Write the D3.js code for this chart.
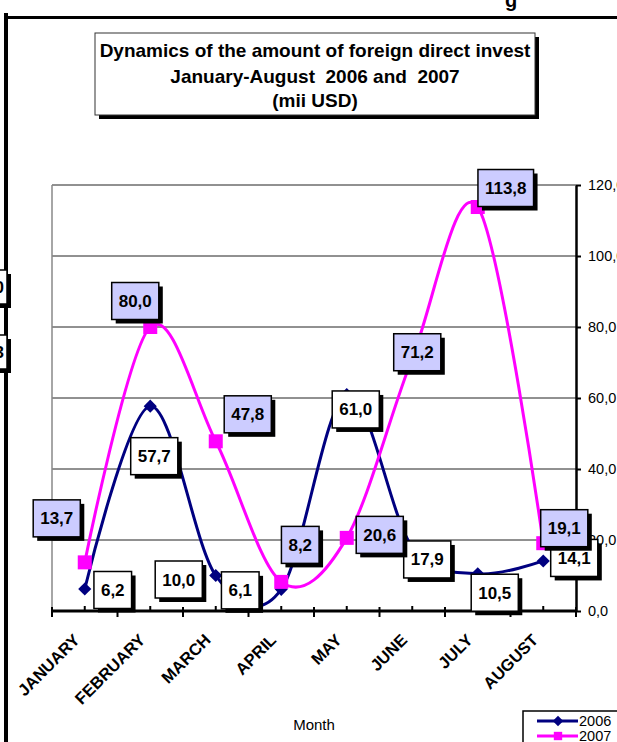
<!DOCTYPE html>
<html>
<head>
<meta charset="utf-8">
<script src="https://cdn.jsdelivr.net/npm/d3@7"></script>
<style>
  body { margin: 0; background: #fff; }
  svg { display: block; font-family: "Liberation Sans", Arial, sans-serif; }
</style>
</head>
<body>
<div class="chart"></div>
<script>
// data
var months = ["JANUARY", "FEBRUARY", "MARCH", "APRIL", "MAY", "JUNE", "JULY", "AUGUST"];
var values2006 = [6.2, 57.7, 10.0, 6.1, 61.0, 17.9, 10.5, 14.1];
var values2007 = [13.7, 80.0, 47.8, 8.2, 20.6, 71.2, 113.8, 19.1];
var yTicks = [0, 20, 40, 60, 80, 100, 120];
var titleLines = ["Dynamics of the amount of foreign direct invest", "January-August  2006 and  2007", "(mii USD)"];

// where the data labels were dragged to (pixel offset from their point)
var labelShift2006 = [[28, 1], [4, 50], [-37, 4], [-41, 1], [9, 15], [15, 12], [17, 19], [31, -3]];
var labelShift2007 = [[-28, -44], [-15, -26], [32, -27], [19, -37], [33, -3], [5, -6], [28, -19], [21, -15]];

var svgWidth = 617;
var svgHeight = 742;
var fontFamily = "'Liberation Sans', Arial, sans-serif";

// plot area in page pixels
var plot = { left: 52, right: 576, top: 185, bottom: 611 };

var svg = d3.select(".chart")
  .append("svg")
  .attr("width", svgWidth)
  .attr("height", svgHeight);

var x = d3.scaleBand()
  .domain(months)
  .range([plot.left, plot.right]);

var y = d3.scaleLinear()
  .domain([0, 120])
  .range([plot.bottom, plot.top]);

var cx = d => x(d) + x.bandwidth() / 2;
var fmt = d => d3.format(".1f")(d).replace(".", ",");

// outer frame of the sheet (cut off at the edges)
svg.append("rect").attr("x", 4).attr("y", 16).attr("width", 613).attr("height", 3).attr("fill", "#000");
svg.append("rect").attr("x", 4).attr("y", 13).attr("width", 4).attr("height", 729).attr("fill", "#000");
svg.append("text")
  .attr("x", 505).attr("y", 7)
  .attr("font-size", 20).attr("font-weight", "bold")
  .text("g");

// labels of a neighbour chart, mostly off-screen
[[270, "0"], [335, "3"]].forEach(function (b) {
  svg.append("rect").attr("x", -40).attr("y", b[0] + 4).attr("width", 51).attr("height", 34).attr("fill", "#000");
  svg.append("rect").attr("x", -44).attr("y", b[0]).attr("width", 51).attr("height", 34)
    .attr("fill", "#fff").attr("stroke", "#000").attr("stroke-width", 1.5);
  svg.append("text").attr("x", 4).attr("y", b[0] + 23).attr("text-anchor", "end")
    .attr("font-size", 17).attr("font-weight", "bold").text(b[1]);
});

// title box
svg.append("rect").attr("x", 99).attr("y", 37).attr("width", 440).attr("height", 82).attr("fill", "#000");
svg.append("rect").attr("x", 95).attr("y", 33).attr("width", 440).attr("height", 82)
  .attr("fill", "#fff").attr("stroke", "#333").attr("stroke-width", 1);
svg.append("g").selectAll("text")
  .data(titleLines)
  .enter()
  .append("text")
  .attr("x", 315)
  .attr("y", (d, i) => [57, 83, 107][i])
  .attr("text-anchor", "middle")
  .attr("font-size", 19)
  .attr("font-weight", "bold")
  .style("white-space", "pre")
  .text(d => d);

// gridlines
svg.append("g").selectAll("line")
  .data(yTicks.filter(d => d > 0))
  .enter()
  .append("line")
  .attr("x1", plot.left).attr("x2", plot.right)
  .attr("y1", d => y(d)).attr("y2", d => y(d))
  .attr("stroke", "#222").attr("stroke-width", 1);

// left border of plot area
svg.append("line")
  .attr("x1", plot.left).attr("x2", plot.left)
  .attr("y1", plot.top).attr("y2", plot.bottom)
  .attr("stroke", "#888").attr("stroke-width", 1.5);

// right value axis
var rightAxis = d3.axisRight(y).tickValues(yTicks).tickFormat(fmt).tickSize(5).tickSizeOuter(0).tickPadding(7);
var ra = svg.append("g")
  .attr("transform", `translate(${plot.right}, 0)`)
  .call(rightAxis)
  .attr("font-family", fontFamily)
  .attr("font-size", 14.5);
ra.select(".domain").attr("stroke-width", 2.5);
ra.selectAll(".tick line").attr("stroke-width", 2);
ra.selectAll("text").attr("fill", "#000");

// bottom category axis
svg.append("line")
  .attr("x1", plot.left - 1).attr("x2", plot.right)
  .attr("y1", plot.bottom).attr("y2", plot.bottom)
  .attr("stroke", "#000").attr("stroke-width", 3);
var bounds = months.map(m => x(m)).concat([plot.right]);
svg.append("g").selectAll("line")
  .data(bounds)
  .enter()
  .append("line")
  .attr("x1", d => d).attr("x2", d => d)
  .attr("y1", plot.bottom - 4).attr("y2", plot.bottom + 6)
  .attr("stroke", "#000").attr("stroke-width", 2);
svg.append("g").selectAll("line")
  .data(months)
  .enter()
  .append("line")
  .attr("x1", cx).attr("x2", cx)
  .attr("y1", plot.bottom - 5).attr("y2", plot.bottom)
  .attr("stroke", "#000").attr("stroke-width", 2);

svg.append("g").selectAll("text")
  .data(months)
  .enter()
  .append("text")
  .attr("transform", d => `translate(${cx(d) - 4}, ${plot.bottom + 30}) rotate(-45)`)
  .attr("text-anchor", "end")
  .attr("font-size", 16.5)
  .attr("font-weight", "bold")
  .text(d => d);

svg.append("text")
  .attr("x", 314).attr("y", 730)
  .attr("text-anchor", "middle")
  .attr("font-size", 15)
  .text("Month");

// smoothed lines
var line = d3.line()
  .x((d, i) => cx(months[i]))
  .y(d => y(d))
  .curve(d3.curveCardinal.tension(0));

svg.append("path")
  .attr("d", line(values2006))
  .attr("fill", "none").attr("stroke", "#000080").attr("stroke-width", 3);
svg.append("g").selectAll("path")
  .data(values2006)
  .enter()
  .append("path")
  .attr("d", d3.symbol(d3.symbolDiamond2, 110))
  .attr("transform", (d, i) => `translate(${cx(months[i])}, ${y(d)})`)
  .attr("fill", "#000080");

svg.append("path")
  .attr("d", line(values2007))
  .attr("fill", "none").attr("stroke", "#ff00ff").attr("stroke-width", 3);
svg.append("g").selectAll("rect")
  .data(values2007)
  .enter()
  .append("rect")
  .attr("x", (d, i) => cx(months[i]) - 7)
  .attr("y", d => y(d) - 7)
  .attr("width", 14).attr("height", 14)
  .attr("fill", "#ff00ff");

// data label boxes
function drawLabels(values, shifts, fill) {
  values.forEach(function (v, i) {
    var px = cx(months[i]) + shifts[i][0];
    var py = y(v) + shifts[i][1];
    var g = svg.append("g");
    var shadow = g.append("rect").attr("fill", "#000");
    var box = g.append("rect").attr("fill", fill).attr("stroke", "#000").attr("stroke-width", 1.5);
    var t = g.append("text")
      .attr("x", px).attr("y", py + 6)
      .attr("text-anchor", "middle")
      .attr("font-size", 17).attr("font-weight", "bold")
      .text(fmt(v));
    var w = t.node().getComputedTextLength() + 14;
    var h = 37;
    box.attr("x", px - w / 2).attr("y", py - h / 2).attr("width", w).attr("height", h);
    shadow.attr("x", px - w / 2 + 4).attr("y", py - h / 2 + 4).attr("width", w).attr("height", h);
  });
}
drawLabels(values2006, labelShift2006, "#ffffff");
drawLabels(values2007, labelShift2007, "#ccccff");

// legend (cut off at the bottom right)
svg.append("rect").attr("x", 523).attr("y", 711).attr("width", 120).attr("height", 60)
  .attr("fill", "#fff").attr("stroke", "#000").attr("stroke-width", 1.5);
var legend = [["2006", "#000080", d3.symbolDiamond2], ["2007", "#ff00ff", d3.symbolSquare]];
legend.forEach(function (l, i) {
  var ly = 721 + i * 15;
  svg.append("line").attr("x1", 537).attr("x2", 578).attr("y1", ly).attr("y2", ly)
    .attr("stroke", l[1]).attr("stroke-width", 3);
  svg.append("path").attr("d", d3.symbol(l[2], 70)).attr("transform", `translate(558, ${ly})`).attr("fill", l[1]);
  svg.append("text").attr("x", 579).attr("y", ly + 5).attr("font-size", 14.5).text(l[0]);
});
</script>
</body>
</html>
